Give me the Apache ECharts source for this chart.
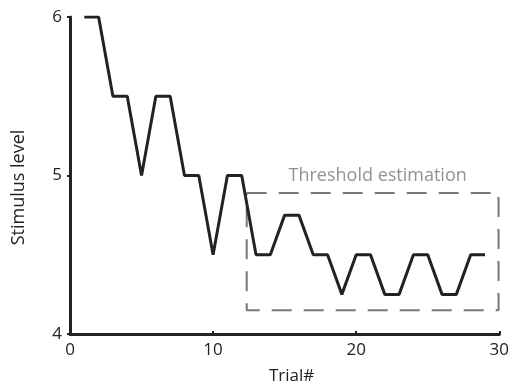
<!DOCTYPE html>
<html>
<head>
<meta charset="utf-8">
<script src="https://cdn.jsdelivr.net/npm/echarts@6/dist/echarts.min.js"></script>
<style>
  html, body { margin: 0; padding: 0; background: #fff; }
  #chart { width: 512px; height: 390px; }
</style>
</head>
<body>
<div id="chart"></div>
<script>
// staircase data
var trials = [1, 2, 3, 4, 5, 6, 7, 8, 9, 10, 11, 12, 13, 14, 15, 16, 17, 18, 19, 20, 21, 22, 23, 24, 25, 26, 27, 28, 29];
var levels = [6, 6, 5.5, 5.5, 5, 5.5, 5.5, 5, 5, 4.5, 5, 5, 4.5, 4.5, 4.75, 4.75, 4.5, 4.5, 4.25, 4.5, 4.5, 4.25, 4.25, 4.5, 4.5, 4.25, 4.25, 4.5, 4.5];
// threshold estimation box
var boxX = [12.35, 29.95, 29.95, 12.35, 12.35];
var boxY = [4.89, 4.89, 4.15, 4.15, 4.89];
var boxLabel = 'Threshold estimation';
var boxLabelPos = [21.5, 5.0];

var font = 'Open Sans';

var chart = echarts.init(document.getElementById('chart'));
chart.setOption({
  animation: false,
  grid: { left: 70, right: 9, top: 17, bottom: 53 },
  xAxis: {
    type: 'value',
    min: 0, max: 30, interval: 10,
    name: 'Trial#',
    nameLocation: 'middle',
    nameGap: 34,
    nameTextStyle: { fontFamily: font, fontSize: 17, color: '#222', padding: [0, 0, 0, 14] },
    axisLine: { lineStyle: { color: '#222', width: 3 } },
    axisTick: { inside: true, length: 3, lineStyle: { color: '#222', width: 2 } },
    axisLabel: { fontFamily: font, fontSize: 17, color: '#222', margin: 8 },
    splitLine: { show: false }
  },
  yAxis: {
    type: 'value',
    min: 4, max: 6, interval: 1,
    name: 'Stimulus level',
    nameLocation: 'middle',
    nameGap: 42,
    nameTextStyle: { fontFamily: font, fontSize: 18, color: '#222', padding: [0, 24, 0, 0] },
    axisLine: { show: true, lineStyle: { color: '#222', width: 3 } },
    axisTick: { show: true, length: 3, lineStyle: { color: '#222', width: 2 } },
    axisLabel: { fontFamily: font, fontSize: 17, color: '#222', margin: 8 },
    splitLine: { show: false }
  },
  series: [
    {
      type: 'line',
      data: boxX.map(function (x, i) { return [x, boxY[i]]; }),
      symbol: 'none',
      lineStyle: { color: '#777', width: 2, type: [20, 12] },
      silent: true
    },
    {
      type: 'line',
      data: trials.map(function (t, i) { return [t, levels[i]]; }),
      symbol: 'none',
      lineStyle: { color: '#222', width: 3 },
      z: 5
    },
    {
      type: 'scatter',
      data: [boxLabelPos],
      symbolSize: 0,
      label: {
        show: true,
        position: 'inside',
        formatter: boxLabel,
        fontFamily: font,
        fontSize: 18,
        color: '#777'
      },
      silent: true
    }
  ]
});
</script>
</body>
</html>
